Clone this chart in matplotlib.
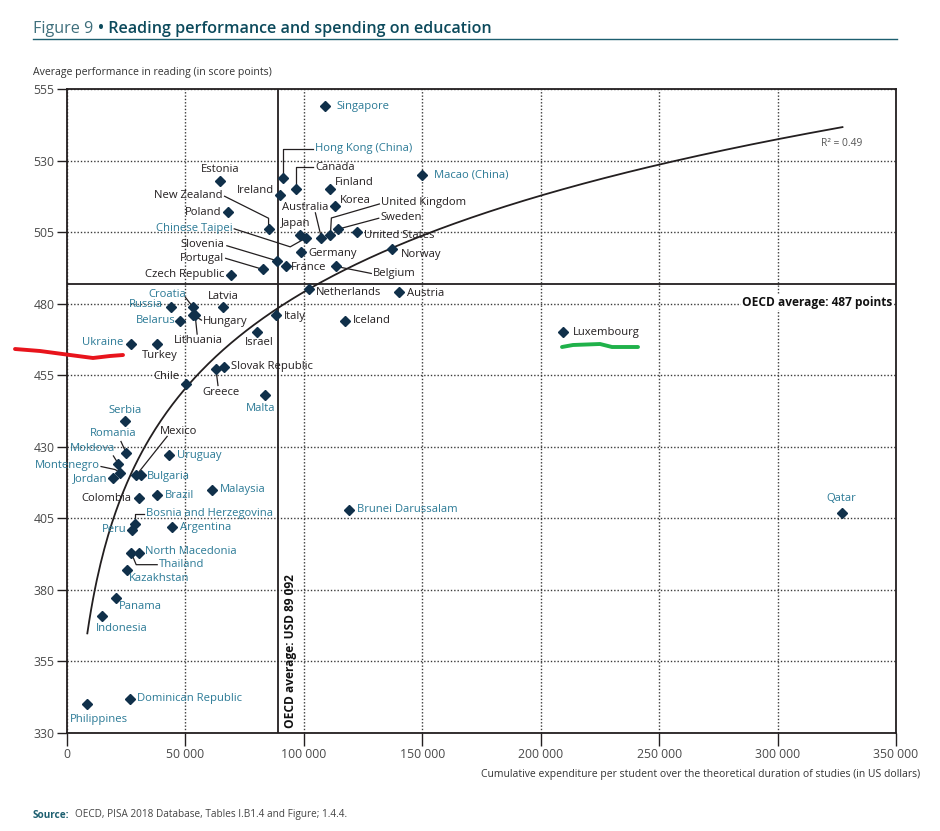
import matplotlib
matplotlib.use("Agg")
import matplotlib.pyplot as plt
from matplotlib.lines import Line2D
import numpy as np

plt.rcParams["font.family"] = ["Open Sans", "DejaVu Sans"]

# ---------------- data ----------------
countries = ["Singapore", "Hong Kong (China)", "Macao (China)", "Estonia", "Canada", "Finland",
             "Ireland", "Korea", "Poland", "New Zealand", "Sweden", "United States",
             "United Kingdom", "Japan", "Australia", "Chinese Taipei", "Germany", "Slovenia",
             "Belgium", "France", "Portugal", "Czech Republic", "Norway", "Netherlands", "Austria",
             "Croatia", "Latvia", "Russia", "Hungary", "Lithuania", "Italy", "Belarus", "Iceland",
             "Israel", "Luxembourg", "Ukraine", "Turkey", "Slovak Republic", "Greece", "Chile",
             "Malta", "Serbia", "Uruguay", "Romania", "Moldova", "Montenegro", "Mexico",
             "Bulgaria", "Jordan", "Malaysia", "Brazil", "Colombia", "Brunei Darussalam", "Qatar",
             "Bosnia and Herzegovina", "Argentina", "Peru", "Thailand", "North Macedonia",
             "Kazakhstan", "Panama", "Indonesia", "Dominican Republic", "Philippines"]

spending = [109000, 91400, 149900, 64700, 96700, 110900,
            90000, 113000, 67900, 85100, 114300, 122400,
            111200, 98200, 107400, 101000, 98900, 88600,
            113700, 92400, 82600, 69300, 137200, 102000, 140300,
            53000, 65800, 44000, 53400, 54100, 88200, 47500, 117500,
            80200, 209500, 26900, 37900, 66400, 62900, 50300,
            83700, 24500, 43100, 24900, 21700, 22400, 29200,
            31200, 19600, 61200, 38200, 30200, 119200, 327000,
            28700, 44200, 27300, 27100, 30600,
            25200, 20600, 14700, 26600, 8600]

reading = [549, 524, 525, 523, 520, 520,
           518, 514, 512, 506, 506, 505,
           504, 504, 503, 503, 498, 495,
           493, 493, 492, 490, 499, 485, 484,
           479, 479, 479, 476, 476, 476, 474, 474,
           470, 470, 466, 466, 458, 457, 452,
           448, 439, 427, 428, 424, 421, 420,
           420, 419, 415, 413, 412, 408, 407,
           403, 402, 401, 393, 393,
           387, 377, 371, 342, 340]

partners = {"Singapore", "Hong Kong (China)", "Macao (China)", "Chinese Taipei", "Croatia",
            "Russia", "Belarus", "Ukraine", "Malta", "Serbia", "Romania", "Moldova",
            "Montenegro", "Jordan", "Uruguay", "Bulgaria", "Malaysia", "Brazil",
            "Bosnia and Herzegovina", "Peru", "Argentina", "North Macedonia", "Thailand",
            "Kazakhstan", "Panama", "Indonesia", "Dominican Republic", "Philippines",
            "Brunei Darussalam", "Qatar"}

oecd_spending = 89092
oecd_reading = 487
trend_a, trend_b = -75.1, 48.57          # log trend: reading = a + b*ln(spending)
trend_range = (8580, 327400)
r2_text = "R\u00b2 = 0.49"

x_ticks = [0, 50000, 100000, 150000, 200000, 250000, 300000, 350000]
x_ticklabels = ["0", "50 000", "100 000", "150 000", "200 000", "250 000", "300 000", "350 000"]
y_ticks = [330, 355, 380, 405, 430, 455, 480, 505, 530, 555]

# ---------------- label layout (pixel offsets, dy downward) ----------------
layout = {
    "Singapore": (11, 0, "left", None),
    "Hong Kong (China)": (32, -29, "left", [(0, 0), (0, -29), (30, -29)]),
    "Macao (China)": (12, 0, "left", None),
    "Canada": (19, -22, "left", [(0, 0), (0, -22), (17, -22)]),
    "Finland": (5, -7, "left", None),
    "Korea": (5, -6, "left", None),
    "Ireland": (-6, -4, "right", None),
    "Estonia": (0, -11, "center", None),
    "New Zealand": (-46, -34, "right", [(0, 0), (0, -11), (-44, -33)]),
    "Poland": (-6, 0, "right", None),
    "Chinese Taipei": (-74, -9, "right", [(0, 0), (-16, 9), (-72, -9)]),
    "Japan": (-4, -11, "center", None),
    "Australia": (-16, -30, "center", [(0, 0), (-6, -25)]),
    "United Kingdom": (51, -32, "left", [(0, 0), (1, -17), (49, -31)]),
    "Sweden": (43, -12, "left", [(0, 0), (41, -11)]),
    "United States": (7, 3, "left", None),
    "Norway": (9, 5, "left", None),
    "Germany": (7, 1, "left", None),
    "France": (5, 1, "left", None),
    "Belgium": (37, 7, "left", [(0, 0), (35, 7)]),
    "Netherlands": (7, 3, "left", None),
    "Austria": (8, 1, "left", None),
    "Slovenia": (-52, -16, "right", [(0, 0), (-50, -15)]),
    "Portugal": (-39, -11, "right", [(0, 0), (-37, -11)]),
    "Czech Republic": (-7, -1, "right", None),
    "Croatia": (-6, -12, "right", [(0, 0), (-7, -9)]),
    "Russia": (-8, -2, "right", None),
    "Belarus": (-4, 0, "right", None),
    "Latvia": (0, -10, "center", None),
    "Hungary": (9, 6, "left", [(0, 0), (8, 5)]),
    "Lithuania": (3, 25, "center", [(0, 0), (2, 19)]),
    "Ukraine": (-7, -1, "right", None),
    "Turkey": (3, 12, "center", None),
    "Israel": (2, 10, "center", None),
    "Italy": (8, 1, "left", None),
    "Iceland": (8, 0, "left", None),
    "Chile": (-7, -7, "right", None),
    "Slovak Republic": (7, 0, "left", None),
    "Greece": (5, 23, "center", [(0, 0), (2, 16)]),
    "Malta": (-5, 13, "center", None),
    "Serbia": (0, -11, "center", None),
    "Romania": (-13, -19, "center", [(0, 0), (-5, -11)]),
    "Moldova": (-3, -15, "right", [(0, 0), (-5, -8)]),
    "Montenegro": (-20, -7, "right", [(0, 0), (-5, -3), (-19, -6)]),
    "Jordan": (-6, 0, "right", None),
    "Mexico": (42, -44, "center", [(0, 0), (31, -39)]),
    "Bulgaria": (6, 1, "left", None),
    "Uruguay": (8, 0, "left", None),
    "Malaysia": (8, 0, "left", None),
    "Colombia": (-7, 0, "right", None),
    "Brazil": (7, 0, "left", None),
    "Bosnia and Herzegovina": (11, -11, "left", [(0, 0), (0, -10), (9, -10)]),
    "Peru": (-5, 0, "right", None),
    "Argentina": (8, 1, "left", None),
    "North Macedonia": (6, -1, "left", None),
    "Thailand": (28, 12, "left", [(0, 0), (5, 12), (26, 12)]),
    "Kazakhstan": (2, 9, "left", None),
    "Panama": (3, 8, "left", None),
    "Indonesia": (-6, 13, "left", None),
    "Dominican Republic": (7, 0, "left", None),
    "Philippines": (-17, 15, "left", None),
    "Luxembourg": (10, 0, "left", None),
    "Brunei Darussalam": (8, 0, "left", None),
    "Qatar": (0, -14, "center", None),
}

# ---------------- styles ----------------
W, H = 940, 831
TEAL = "#2b7a96"
DARK = "#231f20"
MARK = "#10304a"
GRID = "#3a3a3a"
TICKC = "#4a4a4a"
LABEL_FS = 8.1

fig = plt.figure(figsize=(W / 100, H / 100), dpi=100)
ax = fig.add_axes([67 / W, 1 - 733 / H, (896 - 67) / W, (733 - 89) / H])
ax.set_xlim(0, 350000)
ax.set_ylim(330, 555)

ax.set_xticks(x_ticks)
ax.set_xticklabels(x_ticklabels)
ax.set_yticks(y_ticks)
ax.tick_params(axis="both", direction="out", colors=DARK, labelcolor=TICKC,
               labelsize=8.8, width=1.0)
ax.tick_params(axis="x", length=9, pad=2)
ax.tick_params(axis="y", length=7, pad=2)
for s in ax.spines.values():
    s.set_linewidth(1.3)
    s.set_color(DARK)

ax.grid(True, linestyle=(0, (1, 1.4)), color=GRID, linewidth=1.0, zorder=0)
ax.set_axisbelow(True)

# OECD averages
ax.axvline(oecd_spending, color=DARK, lw=1.3, zorder=2)
ax.axhline(oecd_reading, color=DARK, lw=1.3, zorder=2)
ax.annotate("OECD average: USD 89 092", (oecd_spending, 330), xytext=(12, 5),
            textcoords="offset pixels", rotation=90, ha="center", va="bottom",
            fontsize=8.6, fontweight="bold", color="#111111")
ax.text(348500, 480.5, "OECD average: 487 points", ha="right", va="center",
        fontsize=8.6, fontweight="bold", color="#111111", zorder=4,
        bbox=dict(facecolor="white", edgecolor="none", pad=1.0))

# trend
tx = np.linspace(trend_range[0], trend_range[1], 400)
ax.plot(tx, trend_a + trend_b * np.log(tx), color=DARK, lw=1.3, zorder=3)
ax.text(318500, 536, r2_text, fontsize=7.4, color="#555555", ha="left", va="center")

# points
ax.plot(spending, reading, linestyle="none", marker="D", markersize=5.2,
        color=MARK, zorder=6)

fig.canvas.draw()
inv = ax.transData.inverted()
for name, xv, yv in zip(countries, spending, reading):
    dx, dy, ha, leader = layout[name]
    col = TEAL if name in partners else DARK
    ax.annotate(name, (xv, yv), xytext=(dx, -dy), textcoords="offset pixels",
                ha=ha, va="center", fontsize=LABEL_FS, color=col, zorder=7)
    if leader:
        base = ax.transData.transform((xv, yv))
        pts = np.array([base + np.array([px, -py]) for px, py in leader])
        dpts = inv.transform(pts)
        ax.plot(dpts[:, 0], dpts[:, 1], color=DARK, lw=0.9, zorder=5, clip_on=False)

# axis titles
fig.text(33 / W, 1 - 73 / H, "Average performance in reading (in score points)",
         fontsize=7.6, color="#333333", ha="left", va="center")
fig.text(920 / W, 1 - 774 / H,
         "Cumulative expenditure per student over the theoretical duration of studies (in US dollars)",
         fontsize=7.5, color="#333333", ha="right", va="center")

# title
fig.text(33 / W, 1 - 29 / H, "Figure 9", fontsize=11.6, color="#3f6f7c", ha="left", va="center")
fig.text(98 / W, 1 - 29 / H, "\u2022 Reading performance and spending on education",
         fontsize=11.6, color="#0c4a5c", ha="left", va="center", fontweight="semibold")
fig.add_artist(Line2D([33 / W, 897 / W], [1 - 39 / H, 1 - 39 / H], color="#1d5f70", lw=1.0))

# source
fig.text(33 / W, 1 - 815 / H, "Source:", fontsize=7.2, color="#1d5f70", fontweight="bold",
         ha="left", va="center")
fig.text(75 / W, 1 - 815 / H, "OECD, PISA 2018 Database, Tables I.B1.4 and Figure; 1.4.4.",
         fontsize=7.2, color="#444444", ha="left", va="center")

# hand-drawn marks present on the reference
red = [(15, 349), (40, 351), (70, 355), (93, 358), (110, 356), (123, 355)]
green = [(562, 347), (573, 345), (600, 344), (612, 347), (638, 347)]
for pts, c in ((red, "#e8141c"), (green, "#1fb14a")):
    fig.add_artist(Line2D([p[0] / W for p in pts], [1 - p[1] / H for p in pts],
                          color=c, lw=2.8, solid_capstyle="round"))

fig.savefig("out.png", dpi=100)
